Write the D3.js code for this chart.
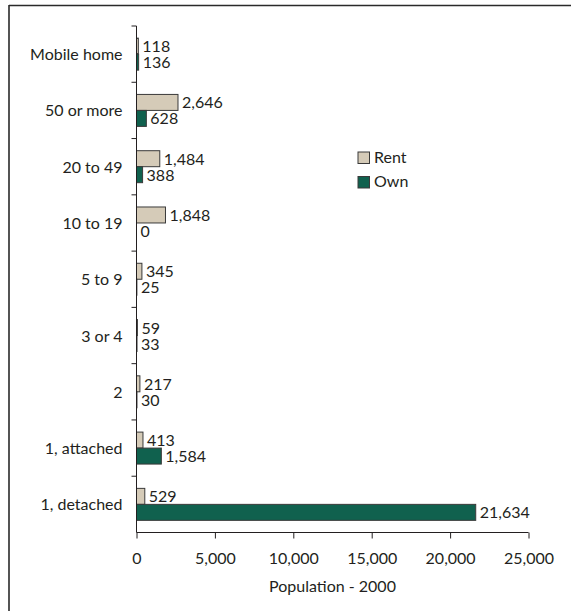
<!DOCTYPE html>
<html>
<head>
<meta charset="utf-8">
<script src="https://cdn.jsdelivr.net/npm/d3@7"></script>
<style>
  html, body { margin: 0; padding: 0; background: #fff; }
  svg { display: block; }
  text { font-family: Lato, "Open Sans", sans-serif; fill: #231f20; }
</style>
</head>
<body>
<svg id="chart" width="571" height="611"></svg>
<script>
// Housing units by structure type, population 2000
const categories = ["Mobile home", "50 or more", "20 to 49", "10 to 19", "5 to 9", "3 or 4", "2", "1, attached", "1, detached"];
const rentValues = [118, 2646, 1484, 1848, 345, 59, 217, 413, 529];
const ownValues  = [136, 628, 388, 0, 25, 33, 30, 1584, 21634];
const seriesNames = ["Rent", "Own"];
const seriesColors = ["#d5cbb8", "#10614e"];
const xTicks = [0, 5000, 10000, 15000, 20000, 25000];
const xTitle = "Population - 2000";

const svg = d3.select("#chart");
const fmt = d3.format(",");

const margin = { left: 136.5, right: 528.5, top: 26, bottom: 532.5 };

const x = d3.scaleLinear().domain([0, 25000]).range([margin.left, margin.right]);
const y = d3.scaleBand().domain(categories).range([margin.top, margin.bottom]).padding(0);
const ySub = d3.scaleBand().domain(seriesNames).range([0, y.bandwidth()]).paddingInner(0).paddingOuter(0.76);

// Frame lines (top and left)
svg.append("line").attr("x1", 9).attr("x2", 571).attr("y1", 5.5).attr("y2", 5.5)
  .attr("stroke", "#2a2a2a").attr("stroke-width", 1.3);
svg.append("line").attr("x1", 9).attr("x2", 9).attr("y1", 5).attr("y2", 611)
  .attr("stroke", "#2a2a2a").attr("stroke-width", 1.6);

// Bars
const rows = categories.map((c, i) => ({ cat: c, values: [rentValues[i], ownValues[i]] }));
const groups = svg.append("g").selectAll("g").data(rows).join("g")
  .attr("transform", d => `translate(0,${y(d.cat)})`);

groups.selectAll("rect").data(d => d.values.map((v, j) => ({ v, s: seriesNames[j], j })))
  .join("rect")
  .filter(d => d.v > 0)
  .attr("x", x(0))
  .attr("y", d => ySub(d.s))
  .attr("width", d => x(d.v) - x(0))
  .attr("height", ySub.bandwidth())
  .attr("fill", d => seriesColors[d.j])
  .attr("stroke", "#3a3a3a")
  .attr("stroke-width", 1);

groups.selectAll("text").data(d => d.values.map((v, j) => ({ v, s: seriesNames[j] })))
  .join("text")
  .attr("x", d => x(d.v) + 4)
  .attr("y", d => ySub(d.s) + ySub.bandwidth() / 2 + 6)
  .attr("font-size", 16)
  .text(d => fmt(d.v));

// Y axis: line, ticks at band edges, labels at band centres
const yAxis = svg.append("g");
yAxis.append("line").attr("x1", x(0)).attr("x2", x(0)).attr("y1", margin.top).attr("y2", margin.bottom)
  .attr("stroke", "#231f20").attr("stroke-width", 1);
const edges = categories.map(c => y(c)).concat([margin.bottom]);
yAxis.selectAll(".ytick").data(edges.slice(0, -1)).join("line")
  .attr("class", "ytick")
  .attr("x1", x(0) - 5).attr("x2", x(0))
  .attr("y1", d => d).attr("y2", d => d)
  .attr("stroke", "#231f20");
yAxis.selectAll(".ylab").data(categories).join("text")
  .attr("class", "ylab")
  .attr("x", x(0) - 14)
  .attr("y", d => y(d) + y.bandwidth() / 2 + 6)
  .attr("text-anchor", "end")
  .attr("font-size", 16)
  .text(d => d);

// X axis
const xAxis = svg.append("g").attr("transform", `translate(0,${margin.bottom})`)
  .call(d3.axisBottom(x).tickValues(xTicks).tickFormat(fmt).tickSize(6).tickPadding(0));
xAxis.select(".domain").attr("stroke", "#231f20").attr("d", `M${x(0)},0H${x(25000)}`);
xAxis.selectAll(".tick line").attr("stroke", "#231f20");
xAxis.selectAll(".tick text").attr("font-size", 16).attr("font-family", null)
  .attr("dy", null).attr("y", 31).style("fill", "#231f20");
xAxis.attr("font-family", null);

svg.append("text")
  .attr("x", (x(0) + x(25000)) / 2)
  .attr("y", 592)
  .attr("text-anchor", "middle")
  .attr("font-size", 16)
  .text(xTitle);

// Legend
const legend = svg.append("g").attr("transform", "translate(358,152)");
const li = legend.selectAll("g").data(seriesNames).join("g")
  .attr("transform", (d, i) => `translate(0,${i * 24.5})`);
li.append("rect").attr("width", 11.5).attr("height", 11.5)
  .attr("fill", (d, i) => seriesColors[i]).attr("stroke", "#3a3a3a");
li.append("text").attr("x", 16).attr("y", 10.5).attr("font-size", 16).text(d => d);
</script>
</body>
</html>
